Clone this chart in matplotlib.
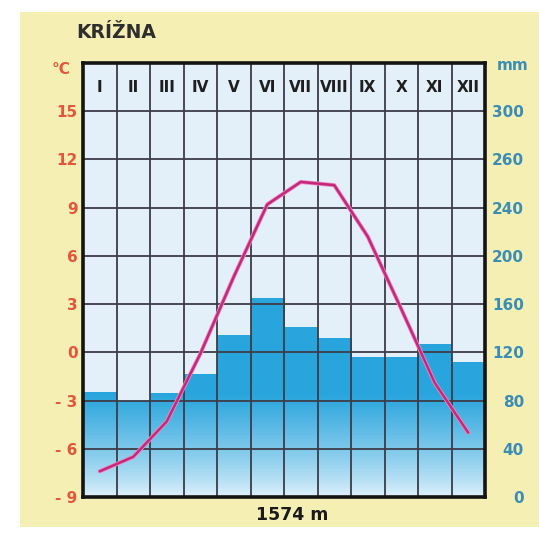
import numpy as np
import matplotlib
matplotlib.use("Agg")
import matplotlib.pyplot as plt
from matplotlib.patches import Rectangle

# data
MONTHS = ["I", "II", "III", "IV", "V", "VI", "VII", "VIII", "IX", "X", "XI", "XII"]
TEMP = [-7.4, -6.5, -4.3, -0.1, 4.7, 9.2, 10.6, 10.4, 7.2, 2.7, -1.9, -5.0]
PRECIP = [87, 80, 86, 102, 134, 165, 141, 132, 116, 116, 127, 112]
T_TICKS = [15, 12, 9, 6, 3, 0, -3, -6, -9]
T_LABELS = ["15", "12", "9", "6", "3", "0", "- 3", "- 6", "- 9"]
P_TICKS = [0, 40, 80, 120, 160, 200, 240, 280, 320]
P_LABELS = ["0", "40", "80", "120", "160", "200", "240", "260", "300"]

RED = "#e4553c"
TEAL = "#3a8db4"
GRID = "#3c3c48"

fig = plt.figure(figsize=(5.39, 5.33), dpi=100)
fig.patch.set_facecolor("white")
# cream page
fig.patches.append(Rectangle((20 / 539, 6 / 533), 519 / 539, 515 / 533,
                             transform=fig.transFigure, facecolor="#f5efb4",
                             edgecolor="none", zorder=0))

pos = [83 / 539, 36 / 533, 402 / 539, 434 / 533]
axp = fig.add_axes(pos, zorder=1)
axt = fig.add_axes(pos, zorder=2)
axt.patch.set_visible(False)

x = np.arange(len(MONTHS))

# precipitation bars with vertical gradient
axp.set_facecolor("#e4f0f9")
lev = np.linspace(0, 360, 400)
top = np.array([0x29, 0xa5, 0xdd]) / 255
low = np.array([0xe2, 0xf2, 0xfb]) / 255
f = np.clip(lev / 85.0, 0, 1) ** 0.8
cols = low[None, :] * (1 - f[:, None]) + top[None, :] * f[:, None]
grad = cols[:, None, :]
bars = axp.bar(x, PRECIP, width=1.0, color="none", edgecolor="none")
for b in bars:
    im = axp.imshow(grad, extent=[-0.5, 11.5, 0, 360], origin="lower",
                    aspect="auto", zorder=1)
    im.set_clip_path(b)
axp.set_xlim(-0.5, 11.5)
axp.set_ylim(0, 360)
axp.set_xticks([])
axp.yaxis.tick_right()
axp.set_yticks(P_TICKS, P_LABELS)
axp.tick_params(axis="y", length=0, pad=28, labelsize=11, labelcolor=TEAL)
for lb in axp.get_yticklabels():
    lb.set_ha("right")
    lb.set_fontweight("bold")
for s in axp.spines.values():
    s.set_visible(False)

# temperature axis on top
axt.set_xlim(-0.5, 11.5)
axt.set_ylim(-9, 18)
for xb in np.arange(0.5, 11.5, 1):
    axt.axvline(xb, color=GRID, lw=1.3, zorder=1)
for yb in range(-6, 16, 3):
    axt.axhline(yb, color=GRID, lw=1.3, zorder=1)
axt.plot(x, TEMP, color="#ee8cc2", lw=3.0, zorder=3, solid_capstyle="round")
axt.plot(x, TEMP, color="#c4287a", lw=1.8, zorder=4, solid_capstyle="round")
for i, m in enumerate(MONTHS):
    axt.text(i, 16.5, m, ha="center", va="center", fontsize=11,
             fontweight="bold", color="#1e1e1e")
axt.set_xticks([])
axt.set_yticks(T_TICKS, T_LABELS)
axt.tick_params(axis="y", length=0, pad=4, labelsize=11, labelcolor=RED)
for lb in axt.get_yticklabels():
    lb.set_fontweight("bold")
for s in axt.spines.values():
    s.set_linewidth(2.6)
    s.set_color("#141414")

fig.text(52 / 539, 1 - 69 / 533, "°C", fontsize=11, fontweight="bold",
         color=RED, va="center", ha="left")
fig.text(497 / 539, 1 - 66 / 533, "mm", fontsize=11, fontweight="bold",
         color=TEAL, va="center", ha="left")
fig.text(76 / 539, 1 - 32 / 533, "KRÍŽNA", fontsize=13.5, fontweight="bold",
         color="#2e2e2e", va="center", ha="left")
fig.text(292 / 539, 1 - 515 / 533, "1574 m", fontsize=12.5, fontweight="bold",
         color="#1a1a1a", va="center", ha="center")

fig.savefig("out.png", dpi=100)
